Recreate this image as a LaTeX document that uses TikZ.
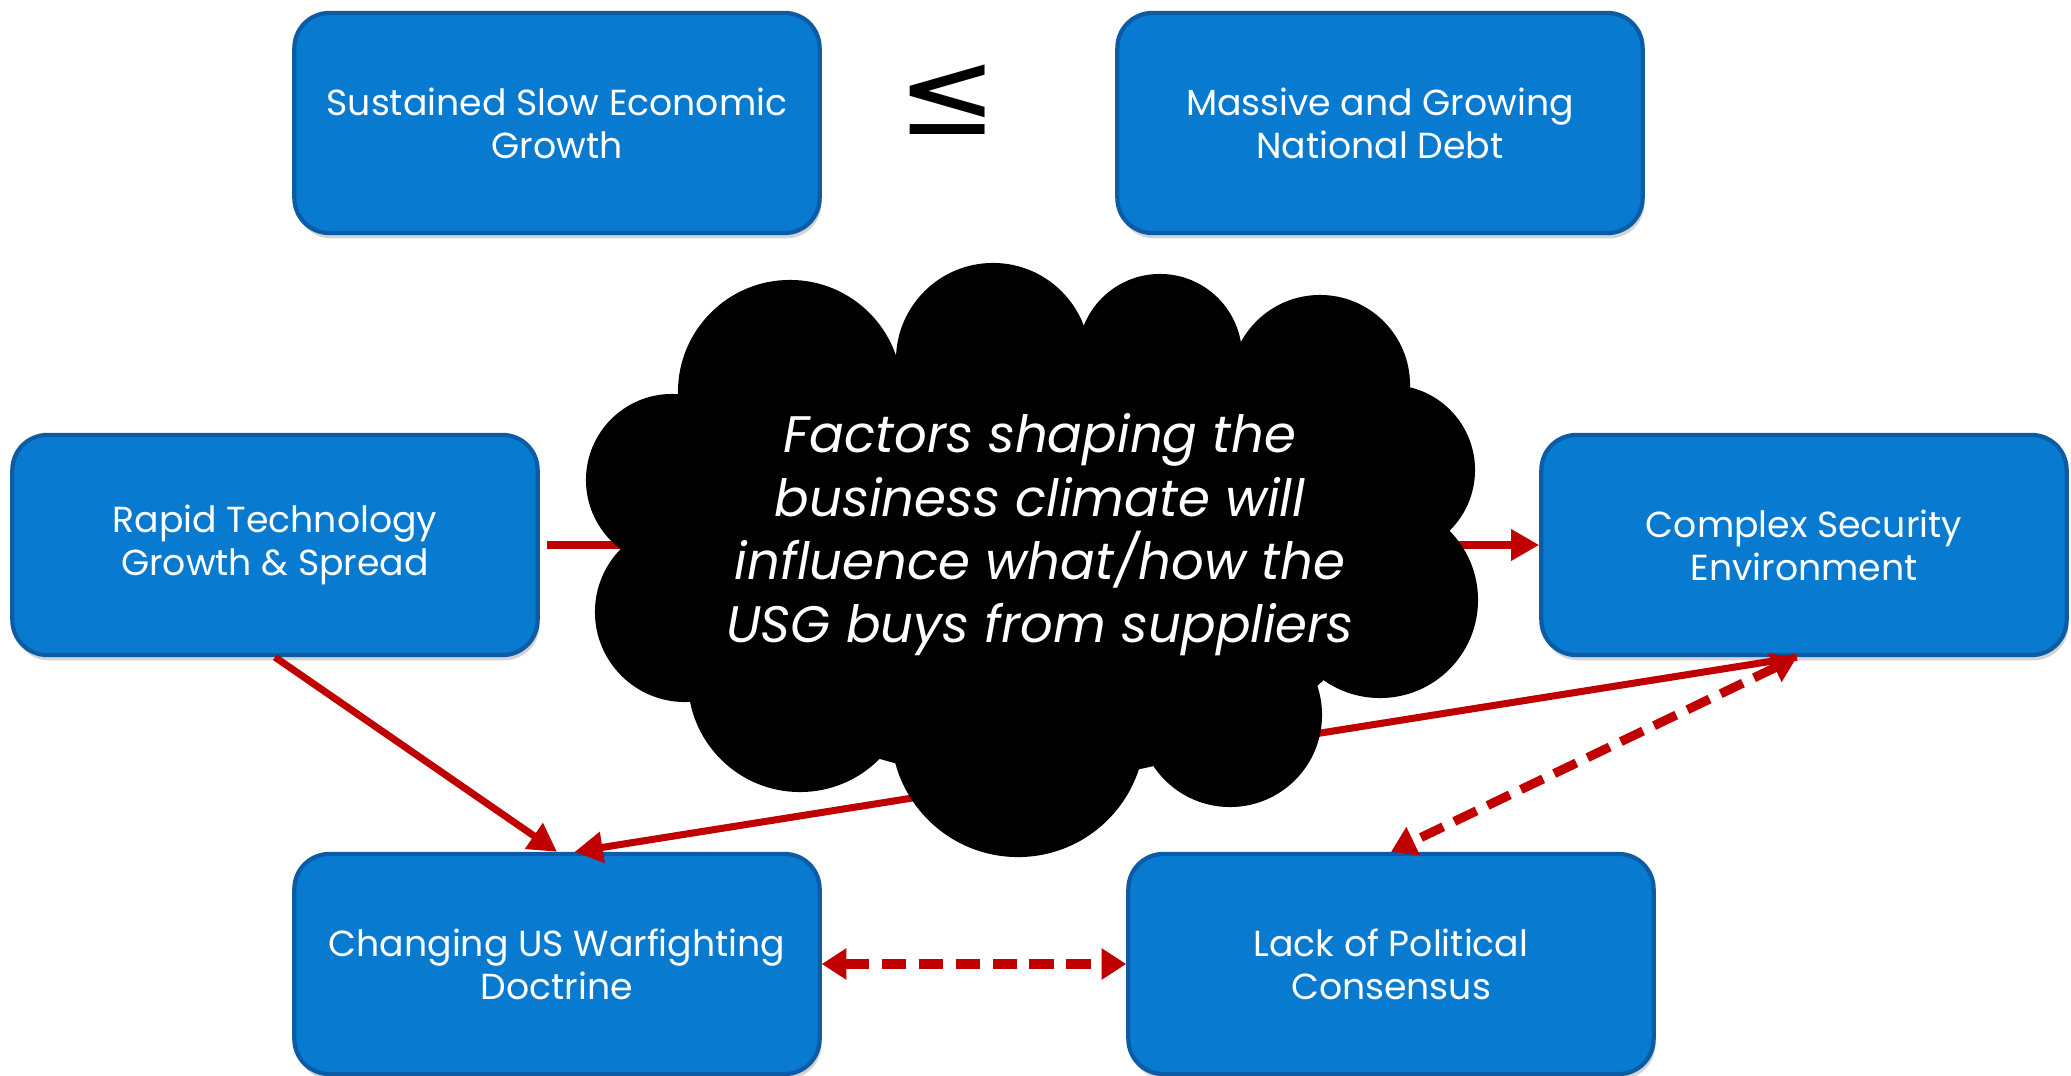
\documentclass[tikz,border=0pt]{standalone}
\usepackage{fontspec}
\setmainfont{Poppins}
\newfontfamily\symfont{DejaVu Sans}
\usepackage{xcolor}
\usetikzlibrary{arrows.meta,shadows}
\definecolor{boxblue}{RGB}{8,122,207}
\definecolor{boxrim}{RGB}{12,92,165}
\definecolor{linkred}{RGB}{192,0,0}

\begin{document}
\begin{tikzpicture}[x=0.01cm,y=-0.01cm,
	factor/.style={rectangle,rounded corners=0.35cm,fill=boxblue,draw=boxrim,line width=1.2pt,
		minimum width=5.25cm,minimum height=2.2cm,text=white,align=center,
		font=\fontsize{10.3}{12.2}\selectfont,
		drop shadow={opacity=0.35,shadow xshift=0.5pt,shadow yshift=-1.5pt}},
	link/.style={draw=linkred,line width=2pt,-{Triangle[length=8pt,width=8.5pt]}},
	duallink/.style={draw=linkred,line width=2.6pt,dash pattern=on 7pt off 3.5pt,
		{Triangle[length=7pt,width=8.5pt]}-{Triangle[length=7pt,width=8.5pt]}}]
	\useasboundingbox (0,0) rectangle (2071,1076);

	\node[factor] (growth) at (557,123) {Sustained Slow Economic\\Growth};
	\node[factor] (debt) at (1380,123) {Massive and Growing\\National Debt};
	\node[factor] (tech) at (275,545) {Rapid Technology\\Growth \& Spread};
	\node[factor] (security) at (1804,545) {Complex Security\\Environment};
	\node[factor] (doctrine) at (557,964) {Changing US Warfighting\\Doctrine};
	\node[factor] (consensus) at (1391,964) {Lack of Political\\Consensus};
	\node (compare) at (948,100) {\symfont\fontsize{34}{34}\selectfont ≤};

	\draw[link] ([xshift=2pt]tech.east) -- (security.west);
	\draw[link] (tech.south) -- (doctrine.north);
	\draw[link] ([xshift=-2pt]security.south) -- ([xshift=5pt]doctrine.north);
	\draw[duallink] ([xshift=-2pt]security.south) -- (consensus.north);
	\draw[duallink] (doctrine.east) -- (consensus.west);

	\fill (1030,560) ellipse [x radius=3.5cm,y radius=2.2cm];
	\foreach \cx/\cy/\r in {790/392/1.12,993/360/0.97,1160/356/0.82,1320/385/0.9,
		1390/470/0.85,1380/600/0.98,1230/715/0.92,1018/730/1.27,800/680/1.12,
		685/612/0.9,672/480/0.86}
	\fill (\cx,\cy) circle [radius=\r cm];
	\node[text=white,align=center,font=\fontsize{14.6}{18}\selectfont\itshape] (climate) at (1040,535)
		{Factors shaping the\\business climate will\\influence what/how the\\USG buys from suppliers};
\end{tikzpicture}
\end{document}
